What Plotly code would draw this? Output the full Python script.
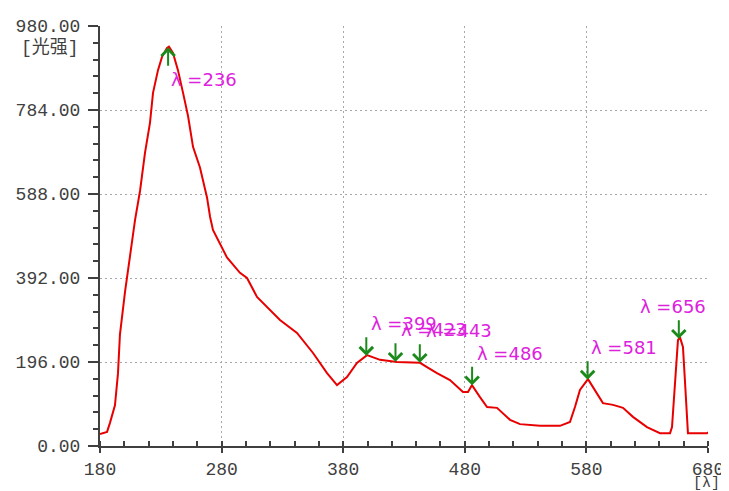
import numpy as np
import plotly.graph_objects as go

# Spectrum data (wavelength, intensity)
wavelength = [180.0, 185.8, 188.2, 190.7, 192.3, 194.8, 196.4, 200.6, 204.7, 208.8,
              212.9, 217.0, 221.1, 223.6, 227.7, 231.0, 235.1, 236.7, 240.0, 244.1,
              248.3, 252.4, 256.5, 262.2, 268.0, 270.5, 272.9, 277.0, 280.3, 284.4,
              295.1, 300.9, 309.1, 328.0, 342.0, 355.2, 366.7, 374.9, 383.1, 391.3,
              399.6, 410.3, 424.2, 443.2, 448.9, 457.1, 467.8, 478.5, 482.6, 485.9,
              492.5, 498.3, 506.5, 517.2, 525.4, 541.8, 558.3, 566.5, 570.6, 574.7,
              581.3, 585.4, 593.6, 601.9, 610.1, 618.3, 629.8, 640.5, 648.8, 650.4,
              652.8, 655.3, 656.9, 659.4, 661.0, 663.5, 679.2, 680.0]
intensity = [28, 33, 54, 77, 95, 170, 260, 360, 446, 527,
             595, 684, 754, 824, 877, 908, 929, 932, 917, 877,
             824, 770, 698, 650, 580, 535, 504, 480, 462, 440,
             404, 392, 348, 294, 264, 217, 170, 142, 161, 194,
             212, 201, 196, 194, 184, 170, 154, 126, 126, 142,
             114, 91, 89, 61, 51, 47, 47, 56, 91, 131,
             156, 138, 100, 96, 89, 68, 44, 30, 30, 44,
             154, 247, 254, 231, 154, 30, 30, 32]

peak_wl = [236, 399, 423, 443, 486, 581, 656]
peak_label_dx = [1, 3, 4, 4, 3, 1, -41]

y_ticks = [0, 196, 392, 588, 784, 980]
y_ticktext = ["0.00", "196.00", "392.00", "588.00", "784.00", "980.00"]
x_ticks = [180, 280, 380, 480, 580, 680]

AXC = "#404040"
MONO = "Liberation Mono, DejaVu Sans Mono, monospace"

fig = go.Figure()
fig.add_trace(go.Scatter(x=wavelength, y=intensity, mode="lines",
                         line=dict(color="#e80000", width=2), hoverinfo="skip"))

peak_y = np.interp(peak_wl, wavelength, intensity)
for wl, py, dx in zip(peak_wl, peak_y, peak_label_dx):
    up = wl == 236
    fig.add_annotation(x=wl, y=py, xref="x", yref="y", text="", showarrow=True,
                       ax=0, ay=(20 if up else -20), arrowhead=4, arrowsize=1.3,
                       arrowwidth=2, arrowcolor="#1b8a1b")
    fig.add_annotation(x=wl, y=py, xref="x", yref="y", text="λ =%d" % wl,
                       showarrow=False, xanchor="left", yanchor="middle",
                       xshift=dx, yshift=(-32 if up else 32),
                       font=dict(family="DejaVu Sans", size=18, color="#dd22dd"))

fig.add_annotation(x=0, y=1, xref="paper", yref="paper", text="[光强]", showarrow=False,
                   xanchor="right", yanchor="middle", xshift=-19, yshift=-21,
                   font=dict(family="Liberation Mono, Noto Sans CJK SC", size=18, color=AXC))
fig.add_annotation(x=1, y=0, xref="paper", yref="paper", text="[λ]", showarrow=False,
                   xanchor="center", yanchor="top", xshift=-2, yshift=-27,
                   font=dict(family=MONO, size=15, color=AXC))

fig.update_xaxes(range=[180, 680], tickvals=x_ticks, ticks="outside", ticklen=5,
                 tickwidth=2, tickcolor=AXC, showline=True, linecolor=AXC, linewidth=2,
                 showgrid=True, gridcolor="#a8a8a8", gridwidth=1, griddash="2px,3px",
                 zeroline=False, automargin=False,
                 tickfont=dict(family=MONO, size=18, color=AXC),
                 minor=dict(dtick=20, ticks="inside", ticklen=5, tickwidth=2,
                            tickcolor=AXC, showgrid=False))
fig.update_yaxes(range=[0, 980], tickvals=y_ticks, ticktext=y_ticktext, ticks="outside",
                 ticklen=10, tickwidth=2, tickcolor=AXC, showline=True, linecolor=AXC,
                 linewidth=2, showgrid=True, gridcolor="#a8a8a8", gridwidth=1,
                 griddash="2px,3px", zeroline=False, automargin=False,
                 ticklabelstandoff=4,
                 tickfont=dict(family=MONO, size=18, color=AXC),
                 minor=dict(dtick=39.2, ticks="outside", ticklen=5, tickwidth=2,
                            tickcolor=AXC, showgrid=False))

# the page has an 8px body margin, so the figure is sized to fit the 729x491 window
fig.update_layout(width=721, height=483, margin=dict(l=92, r=21, t=18, b=45),
                  paper_bgcolor="white", plot_bgcolor="white", showlegend=False)

fig.write_html("out.html")
